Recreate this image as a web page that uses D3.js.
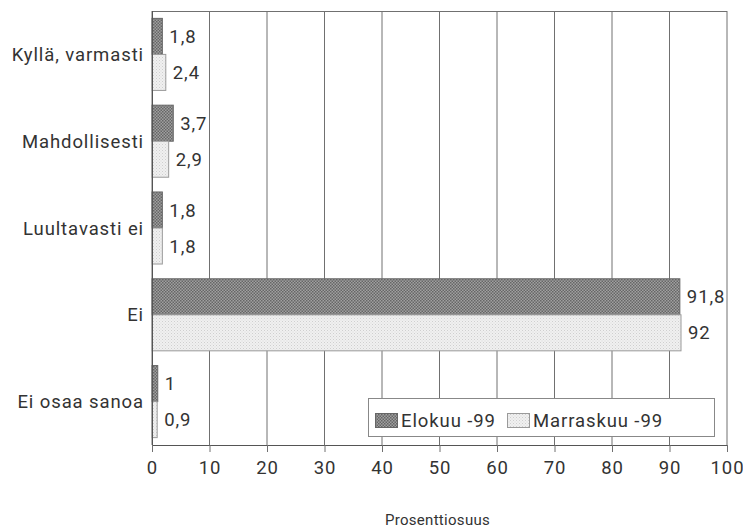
<!DOCTYPE html>
<html><head><meta charset="utf-8">
<script src="https://cdn.jsdelivr.net/npm/d3@7"></script>
<style>
body{margin:0;background:#fff;}
text{font-family:Roboto,"Liberation Sans",sans-serif;fill:#333;}
.big{font-size:18.5px;letter-spacing:0.9px;}
</style></head>
<body><svg id="c" width="743" height="531"></svg>
<script>
const categories = ["Kyllä, varmasti","Mahdollisesti","Luultavasti ei","Ei","Ei osaa sanoa"];
const seriesNames = ["Elokuu -99","Marraskuu -99"];
const elokuu = [1.8,3.7,1.8,91.8,1];
const marraskuu = [2.4,2.9,1.8,92,0.9];
const valueLabels = [["1,8","3,7","1,8","91,8","1"],["2,4","2,9","1,8","92","0,9"]];
const xTicks = [0,10,20,30,40,50,60,70,80,90,100];
const axisTitle = "Prosenttiosuus";

const svg = d3.select("#c");
const m = {left:152, right:727, top:11, bottom:445};
const x = d3.scaleLinear().domain([0,100]).range([m.left,m.right]);
const y = d3.scaleBand().domain(categories).range([m.top,m.bottom]).paddingInner(0.17).paddingOuter(0.085);
const ys = d3.scaleBand().domain([0,1]).range([0,y.bandwidth()]);

const defs = svg.append("defs");
const p1 = defs.append("pattern").attr("id","pd").attr("width",3).attr("height",3).attr("patternUnits","userSpaceOnUse");
p1.append("rect").attr("width",3).attr("height",3).attr("fill","#a0a0a0");
p1.append("rect").attr("width",1.5).attr("height",1.5).attr("fill","#666");
p1.append("rect").attr("x",1.5).attr("y",1.5).attr("width",1.5).attr("height",1.5).attr("fill","#666");
const p2 = defs.append("pattern").attr("id","pl").attr("width",3).attr("height",3).attr("patternUnits","userSpaceOnUse");
p2.append("rect").attr("width",3).attr("height",3).attr("fill","#f0f0f0");
p2.append("rect").attr("width",1).attr("height",1).attr("fill","#cfcfcf");
p2.append("rect").attr("x",1.5).attr("y",1.5).attr("width",1).attr("height",1).attr("fill","#d8d8d8");
const fills = ["url(#pd)","url(#pl)"];
const strokes = ["#666","#9a9a9a"];

// gridlines
svg.append("g").selectAll("line").data(xTicks).join("line")
  .attr("x1",d=>x(d)).attr("x2",d=>x(d)).attr("y1",m.top).attr("y2",m.bottom)
  .attr("stroke","#707070").attr("stroke-width",1);
svg.append("line").attr("x1",m.left).attr("x2",m.right).attr("y1",m.top+0.5).attr("y2",m.top+0.5).attr("stroke","#707070");

// bars
const data = [elokuu, marraskuu];
data.forEach((arr,s)=>{
  const g = svg.append("g");
  g.selectAll("rect").data(arr).join("rect")
    .attr("x",x(0)).attr("y",(d,i)=>y(categories[i])+ys(s))
    .attr("width",d=>x(d)-x(0)).attr("height",ys.bandwidth())
    .attr("fill",fills[s]).attr("stroke",strokes[s]).attr("stroke-width",1);
  g.selectAll("text").data(arr).join("text").attr("class","big")
    .attr("x",d=>x(d)+7).attr("y",(d,i)=>y(categories[i])+ys(s)+ys.bandwidth()/2)
    .attr("dy","0.36em").text((d,i)=>valueLabels[s][i]);
});

// y labels
svg.append("g").selectAll("text").data(categories).join("text").attr("class","big")
  .attr("x",m.left-8).attr("y",d=>y(d)+y.bandwidth()/2).attr("dy","0.36em")
  .attr("text-anchor","end").text(d=>d);

// x axis
const ax = svg.append("g").attr("transform",`translate(0,${m.bottom})`)
  .call(d3.axisBottom(x).tickValues(xTicks).tickSize(7).tickPadding(9).tickFormat(d3.format("d")));
ax.select(".domain").attr("stroke","#555");
ax.selectAll(".tick line").attr("stroke","#707070");
ax.selectAll(".tick text").attr("class","big").attr("font-size",null).attr("font-family",null).attr("fill","#333");
svg.append("line").attr("x1",m.left+0.5).attr("x2",m.left+0.5).attr("y1",m.top).attr("y2",m.bottom).attr("stroke","#555");

svg.append("text").attr("x",(m.left+m.right)/2 - 2).attr("y",525).attr("text-anchor","middle")
  .attr("font-size",15).attr("letter-spacing",0.3).text(axisTitle);

// legend
const lg = svg.append("g");
lg.append("rect").attr("x",368.5).attr("y",398.5).attr("width",346).attr("height",38)
  .attr("fill","#fff").attr("stroke","#888");
const legX = [375,507];
seriesNames.forEach((n,i)=>{
  lg.append("rect").attr("x",legX[i]+0.5).attr("y",413.5).attr("width",22).attr("height",14)
    .attr("fill",fills[i]).attr("stroke",strokes[i]);
  lg.append("text").attr("class","big").attr("x",legX[i]+26).attr("y",420.5).attr("dy","0.36em").text(n);
});
</script></body></html>
